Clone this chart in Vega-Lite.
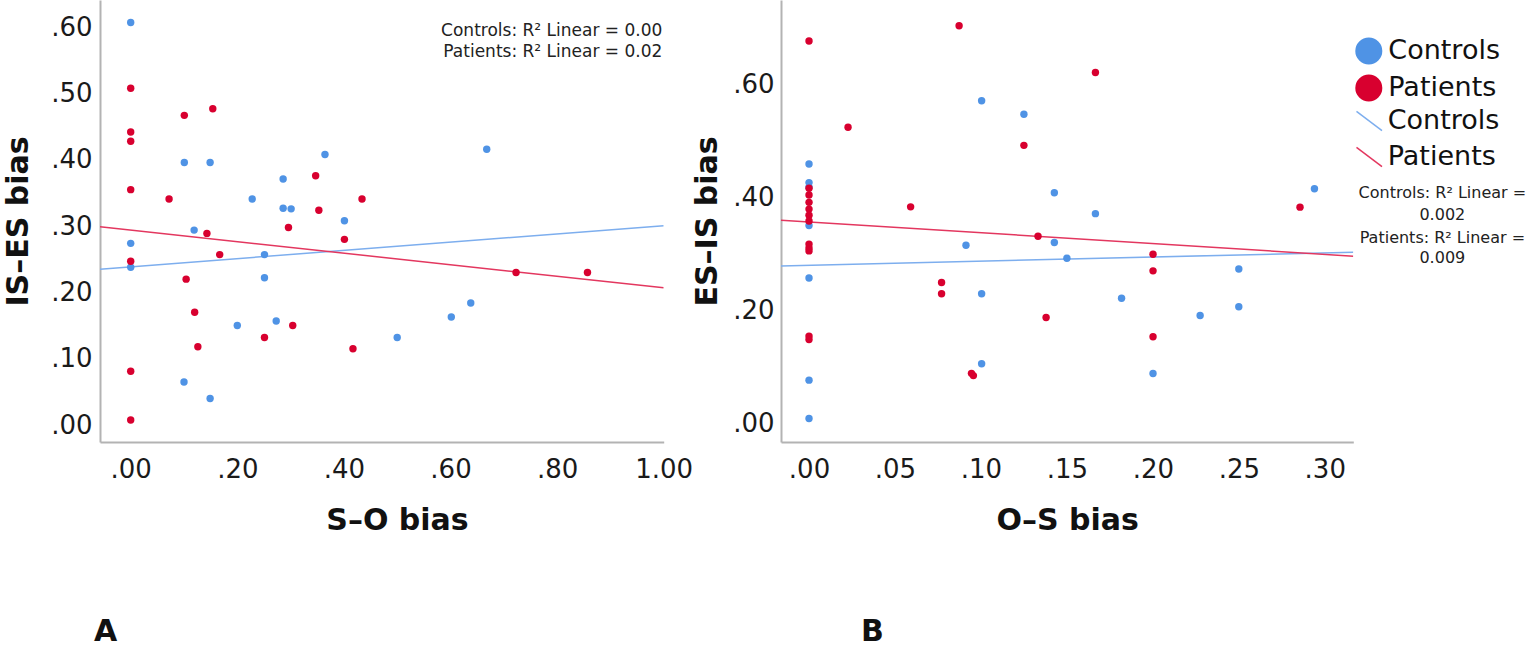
{
  "$schema": "https://vega.github.io/schema/vega-lite/v6.json",
  "description": "Two scatter panels with linear fit lines: IS-ES bias vs S-O bias (A) and ES-IS bias vs O-S bias (B).",
  "padding": {"left": 3, "top": 0, "right": 0, "bottom": 0},
  "background": "white",
  "bounds": "flush",
  "spacing": 117,
  "config": {
    "view": {"stroke": null},
    "font": "DejaVu Sans",
    "axis": {
      "grid": false,
      "ticks": false,
      "tickSize": 0,
      "labelFlush": false,
      "domainColor": "#b3b3b3",
      "domainWidth": 2,
      "labelFont": "DejaVu Sans",
      "labelFontSize": 26,
      "labelColor": "#1a1a1a",
      "titleFont": "DejaVu Sans",
      "titleFontSize": 30,
      "titleFontWeight": "bold",
      "titleColor": "#111111"
    },
    "title": {"font": "DejaVu Sans", "fontSize": 30, "fontWeight": "bold", "color": "#111111"}
  },
  "datasets": {
    "pointsA": [
      {"x": 0, "y": 0.607, "group": "Controls"},
      {"x": 0.1006, "y": 0.396, "group": "Controls"},
      {"x": 0.149, "y": 0.396, "group": "Controls"},
      {"x": 0.3645, "y": 0.408, "group": "Controls"},
      {"x": 0.286, "y": 0.371, "group": "Controls"},
      {"x": 0.228, "y": 0.341, "group": "Controls"},
      {"x": 0.286, "y": 0.327, "group": "Controls"},
      {"x": 0.301, "y": 0.326, "group": "Controls"},
      {"x": 0.401, "y": 0.308, "group": "Controls"},
      {"x": 0.119, "y": 0.294, "group": "Controls"},
      {"x": 0, "y": 0.274, "group": "Controls"},
      {"x": 0, "y": 0.238, "group": "Controls"},
      {"x": 0.251, "y": 0.257, "group": "Controls"},
      {"x": 0.251, "y": 0.222, "group": "Controls"},
      {"x": 0.2, "y": 0.15, "group": "Controls"},
      {"x": 0.273, "y": 0.157, "group": "Controls"},
      {"x": 0.1, "y": 0.065, "group": "Controls"},
      {"x": 0.149, "y": 0.04, "group": "Controls"},
      {"x": 0.668, "y": 0.416, "group": "Controls"},
      {"x": 0.6015, "y": 0.163, "group": "Controls"},
      {"x": 0.638, "y": 0.184, "group": "Controls"},
      {"x": 0.5, "y": 0.132, "group": "Controls"},
      {"x": 0, "y": 0.508, "group": "Patients"},
      {"x": 0.1006, "y": 0.467, "group": "Patients"},
      {"x": 0.154, "y": 0.477, "group": "Patients"},
      {"x": 0, "y": 0.442, "group": "Patients"},
      {"x": 0, "y": 0.428, "group": "Patients"},
      {"x": 0.347, "y": 0.376, "group": "Patients"},
      {"x": 0, "y": 0.355, "group": "Patients"},
      {"x": 0.072, "y": 0.341, "group": "Patients"},
      {"x": 0.353, "y": 0.324, "group": "Patients"},
      {"x": 0.434, "y": 0.341, "group": "Patients"},
      {"x": 0.296, "y": 0.298, "group": "Patients"},
      {"x": 0.143, "y": 0.289, "group": "Patients"},
      {"x": 0.401, "y": 0.28, "group": "Patients"},
      {"x": 0, "y": 0.247, "group": "Patients"},
      {"x": 0.167, "y": 0.257, "group": "Patients"},
      {"x": 0.104, "y": 0.22, "group": "Patients"},
      {"x": 0.12, "y": 0.17, "group": "Patients"},
      {"x": 0.304, "y": 0.15, "group": "Patients"},
      {"x": 0.251, "y": 0.132, "group": "Patients"},
      {"x": 0.126, "y": 0.118, "group": "Patients"},
      {"x": 0.417, "y": 0.115, "group": "Patients"},
      {"x": 0, "y": 0.081, "group": "Patients"},
      {"x": 0, "y": 0.0075, "group": "Patients"},
      {"x": 0.723, "y": 0.23, "group": "Patients"},
      {"x": 0.857, "y": 0.23, "group": "Patients"}
    ],
    "pointsB": [
      {"x": 0, "y": 0.46, "group": "Controls"},
      {"x": 0, "y": 0.427, "group": "Controls"},
      {"x": 0, "y": 0.419, "group": "Controls"},
      {"x": 0, "y": 0.351, "group": "Controls"},
      {"x": 0, "y": 0.258, "group": "Controls"},
      {"x": 0, "y": 0.077, "group": "Controls"},
      {"x": 0, "y": 0.009, "group": "Controls"},
      {"x": 0.1004, "y": 0.572, "group": "Controls"},
      {"x": 0.125, "y": 0.548, "group": "Controls"},
      {"x": 0.1427, "y": 0.409, "group": "Controls"},
      {"x": 0.1666, "y": 0.372, "group": "Controls"},
      {"x": 0.294, "y": 0.416, "group": "Controls"},
      {"x": 0.1427, "y": 0.321, "group": "Controls"},
      {"x": 0.0913, "y": 0.316, "group": "Controls"},
      {"x": 0.1004, "y": 0.23, "group": "Controls"},
      {"x": 0.1004, "y": 0.106, "group": "Controls"},
      {"x": 0.15, "y": 0.293, "group": "Controls"},
      {"x": 0.25, "y": 0.274, "group": "Controls"},
      {"x": 0.1818, "y": 0.222, "group": "Controls"},
      {"x": 0.2275, "y": 0.1915, "group": "Controls"},
      {"x": 0.25, "y": 0.207, "group": "Controls"},
      {"x": 0.2001, "y": 0.0887, "group": "Controls"},
      {"x": 0, "y": 0.678, "group": "Patients"},
      {"x": 0, "y": 0.417, "group": "Patients"},
      {"x": 0, "y": 0.405, "group": "Patients"},
      {"x": 0, "y": 0.392, "group": "Patients"},
      {"x": 0, "y": 0.38, "group": "Patients"},
      {"x": 0, "y": 0.369, "group": "Patients"},
      {"x": 0, "y": 0.359, "group": "Patients"},
      {"x": 0, "y": 0.318, "group": "Patients"},
      {"x": 0, "y": 0.311, "group": "Patients"},
      {"x": 0, "y": 0.306, "group": "Patients"},
      {"x": 0, "y": 0.155, "group": "Patients"},
      {"x": 0, "y": 0.149, "group": "Patients"},
      {"x": 0.0873, "y": 0.705, "group": "Patients"},
      {"x": 0.0227, "y": 0.525, "group": "Patients"},
      {"x": 0.125, "y": 0.493, "group": "Patients"},
      {"x": 0.0591, "y": 0.384, "group": "Patients"},
      {"x": 0.1332, "y": 0.332, "group": "Patients"},
      {"x": 0.1666, "y": 0.622, "group": "Patients"},
      {"x": 0.2856, "y": 0.3835, "group": "Patients"},
      {"x": 0.0771, "y": 0.25, "group": "Patients"},
      {"x": 0.0771, "y": 0.23, "group": "Patients"},
      {"x": 0.1379, "y": 0.188, "group": "Patients"},
      {"x": 0.0956, "y": 0.085, "group": "Patients"},
      {"x": 0.0945, "y": 0.089, "group": "Patients"},
      {"x": 0.2001, "y": 0.3, "group": "Patients"},
      {"x": 0.2001, "y": 0.2706, "group": "Patients"},
      {"x": 0.2001, "y": 0.154, "group": "Patients"}
    ],
    "fitsA": [
      {"x": -0.0576, "y": 0.235, "fit": "Controls fit"},
      {"x": 1.0, "y": 0.3006, "fit": "Controls fit"},
      {"x": -0.0576, "y": 0.299, "fit": "Patients fit"},
      {"x": 1.0, "y": 0.207, "fit": "Patients fit"}
    ],
    "fitsB": [
      {"x": -0.0163, "y": 0.2794, "fit": "Controls fit"},
      {"x": 0.3166, "y": 0.3037, "fit": "Controls fit"},
      {"x": -0.0163, "y": 0.3605, "fit": "Patients fit"},
      {"x": 0.3166, "y": 0.2966, "fit": "Patients fit"}
    ],
    "notesA": [
      {"x": 0.9974, "y": 0.587, "label": "Controls: R² Linear = 0.00"},
      {"x": 0.9974, "y": 0.555, "label": "Patients: R² Linear = 0.02"}
    ],
    "notesB": [
      {"x": 0.3684, "y": 0.3995, "label": "Controls: R² Linear ="},
      {"x": 0.3684, "y": 0.3605, "label": "0.002"},
      {"x": 0.3684, "y": 0.3202, "label": "Patients: R² Linear ="},
      {"x": 0.3684, "y": 0.2837, "label": "0.009"}
    ]
  },
  "resolve": {"scale": {"fill": "independent", "stroke": "independent"}},
  "hconcat": [
    {
      "width": 563.7,
      "height": 442,
      "title": {"text": "A", "orient": "bottom", "anchor": "start", "frame": "group", "offset": 82, "dx": -6},
      "encoding": {
        "x": {
          "field": "x", "type": "quantitative",
          "scale": {"domain": [-0.0576, 1.0], "nice": false, "zero": false},
          "axis": {
            "title": "S–O bias",
            "values": [0, 0.2, 0.4, 0.6, 0.8, 1],
            "labelExpr": "datum.value >= 1 ? format(datum.value, '.2f') : substring(format(datum.value, '.2f'), 1)",
            "labelPadding": 14,
            "titleX": 297,
            "titleY": 63,
            "titleBaseline": "top"
          }
        },
        "y": {
          "field": "y", "type": "quantitative",
          "scale": {"domain": [-0.0256, 0.641], "nice": false, "zero": false},
          "axis": {
            "title": "IS–ES bias",
            "values": [0, 0.1, 0.2, 0.3, 0.4, 0.5, 0.6],
            "labelExpr": "substring(format(datum.value, '.2f'), 1)",
            "labelPadding": 8,
            "titleX": -73,
            "titleY": 221,
            "titleBaseline": "alphabetic"
          }
        }
      },
      "layer": [
        {
          "data": {"name": "fitsA"},
          "mark": {"type": "line", "strokeWidth": 1.5, "clip": true},
          "encoding": {
            "stroke": {
              "field": "fit", "type": "nominal",
              "scale": {"domain": ["Controls fit", "Patients fit"], "range": ["#7DAEEE", "#E3375F"]},
              "legend": null
            }
          }
        },
        {
          "data": {"name": "pointsA"},
          "mark": {"type": "circle", "size": 55, "opacity": 1},
          "encoding": {
            "fill": {
              "field": "group", "type": "nominal",
              "scale": {"domain": ["Controls", "Patients"], "range": ["#4F93E5", "#D8002F"]},
              "legend": null
            }
          }
        },
        {
          "data": {"name": "notesA"},
          "mark": {"type": "text", "align": "right", "baseline": "alphabetic", "fontSize": 17, "color": "#222222", "font": "DejaVu Sans"},
          "encoding": {"text": {"field": "label", "type": "nominal"}}
        }
      ]
    },
    {
      "width": 572.3,
      "height": 442,
      "title": {"text": "B", "orient": "bottom", "anchor": "start", "frame": "group", "offset": 82, "dx": 80},
      "encoding": {
        "x": {
          "field": "x", "type": "quantitative",
          "scale": {"domain": [-0.0163, 0.3166], "nice": false, "zero": false},
          "axis": {
            "title": "O–S bias",
            "values": [0, 0.05, 0.1, 0.15, 0.2, 0.25, 0.3],
            "labelExpr": "substring(format(datum.value, '.2f'), 1)",
            "labelPadding": 14,
            "titleY": 63,
            "titleBaseline": "top"
          }
        },
        "y": {
          "field": "y", "type": "quantitative",
          "scale": {"domain": [-0.0326, 0.7505], "nice": false, "zero": false},
          "axis": {
            "title": "ES–IS bias",
            "values": [0, 0.2, 0.4, 0.6],
            "labelExpr": "substring(format(datum.value, '.2f'), 1)",
            "labelPadding": 7,
            "titleX": -65,
            "titleY": 221,
            "titleBaseline": "alphabetic"
          }
        }
      },
      "layer": [
        {
          "data": {"name": "fitsB"},
          "mark": {"type": "line", "strokeWidth": 1.5, "clip": true},
          "encoding": {
            "stroke": {
              "field": "fit", "type": "nominal",
              "scale": {"domain": ["Controls fit", "Patients fit"], "range": ["#7DAEEE", "#E3375F"]},
              "legend": {
                "title": null,
                "orient": "none",
                "legendX": 574.75,
                "legendY": 107.5,
                "padding": 0,
                "symbolType": "M-1,-0.75L1,0.75",
                "symbolSize": 650,
                "symbolStrokeWidth": 1.5,
                "labelExpr": "replace(datum.label, ' fit', '')",
                "labelFont": "DejaVu Sans",
                "labelFontSize": 27,
                "labelColor": "#111111",
                "labelOffset": 5,
                "rowPadding": 8
              }
            }
          }
        },
        {
          "data": {"name": "pointsB"},
          "mark": {"type": "circle", "size": 55, "opacity": 1},
          "encoding": {
            "fill": {
              "field": "group", "type": "nominal",
              "scale": {"domain": ["Controls", "Patients"], "range": ["#4F93E5", "#D8002F"]},
              "legend": {
                "title": null,
                "orient": "none",
                "legendX": 573.3,
                "legendY": 36.5,
                "padding": 0,
                "symbolType": "circle",
                "symbolSize": 730,
                "symbolOpacity": 1,
                "labelFont": "DejaVu Sans",
                "labelFontSize": 27,
                "labelColor": "#111111",
                "labelOffset": 5,
                "rowPadding": 8
              }
            }
          }
        },
        {
          "data": {"name": "notesB"},
          "mark": {"type": "text", "align": "center", "baseline": "alphabetic", "fontSize": 16, "color": "#222222", "font": "DejaVu Sans"},
          "encoding": {"text": {"field": "label", "type": "nominal"}}
        }
      ]
    }
  ]
}
